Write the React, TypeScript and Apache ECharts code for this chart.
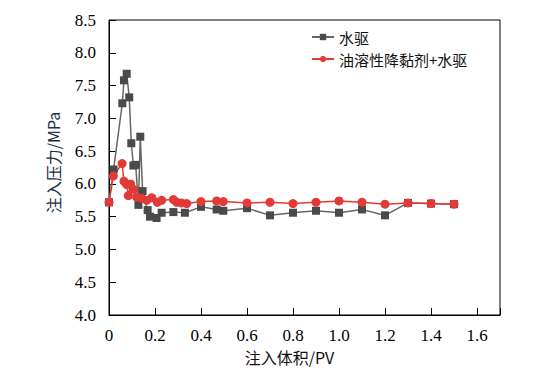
import React, { useEffect, useRef } from "react";
import * as echarts from "echarts";

const seriesNames = ["水驱", "油溶性降黏剂+水驱"];

const waterX = [0, 0.02, 0.058, 0.065, 0.077, 0.088, 0.097, 0.106, 0.116, 0.128, 0.136, 0.146, 0.168, 0.178, 0.207, 0.229, 0.28, 0.33, 0.4, 0.468, 0.497, 0.6, 0.7, 0.8, 0.9, 1.0, 1.1, 1.2, 1.3, 1.4, 1.5];
const waterY = [5.72, 6.22, 7.23, 7.58, 7.68, 7.32, 6.62, 6.28, 6.29, 5.68, 6.72, 5.89, 5.6, 5.5, 5.48, 5.56, 5.57, 5.56, 5.65, 5.61, 5.59, 5.63, 5.52, 5.56, 5.59, 5.56, 5.61, 5.52, 5.71, 5.7, 5.69];

const agentX = [0, 0.019, 0.057, 0.065, 0.077, 0.084, 0.094, 0.106, 0.12, 0.142, 0.164, 0.186, 0.21, 0.229, 0.28, 0.294, 0.315, 0.338, 0.4, 0.468, 0.497, 0.6, 0.7, 0.8, 0.9, 1.0, 1.1, 1.2, 1.3, 1.4, 1.5];
const agentY = [5.72, 6.12, 6.31, 6.04, 5.99, 5.82, 6.0, 5.92, 5.8, 5.78, 5.75, 5.79, 5.72, 5.75, 5.76, 5.72, 5.71, 5.7, 5.73, 5.74, 5.73, 5.71, 5.72, 5.7, 5.72, 5.74, 5.72, 5.69, 5.71, 5.7, 5.69];

const xTickLabels = ["0", "0.2", "0.4", "0.6", "0.8", "1.0", "1.2", "1.4", "1.6"];

export default function App() {
  const ref = useRef<HTMLDivElement>(null);
  useEffect(() => {
    if (!ref.current) return;
    const chart = echarts.init(ref.current, undefined, { renderer: "svg" });
    const serif = "Liberation Serif";
    const cjk = "Noto Sans CJK SC";
    chart.setOption({
      animation: false,
      backgroundColor: "#ffffff",
      grid: {
        left: 109,
        right: 40,
        top: 20,
        bottom: 64,
        show: true,
        borderColor: "#000",
        borderWidth: 1,
      },
      legend: {
        orient: "vertical",
        left: 311,
        top: 29,
        padding: 0,
        itemWidth: 22,
        itemHeight: 8,
        itemGap: 6,
        textStyle: { fontFamily: cjk, fontSize: 15, lineHeight: 16, color: "#111" },
        data: seriesNames,
      },
      xAxis: {
        type: "value",
        min: 0,
        max: 1.7,
        interval: 0.2,
        name: "注入体积/PV",
        nameLocation: "middle",
        nameGap: 33,
        nameTextStyle: { fontFamily: cjk, fontSize: 16, color: "#111", padding: [0, 30, 0, 0] },
        splitLine: { show: false },
        axisLine: { lineStyle: { color: "#000", width: 1 } },
        axisTick: { inside: true, length: 7, lineStyle: { color: "#000" } },
        axisLabel: {
          fontFamily: serif,
          fontSize: 17,
          color: "#000",
          margin: 12,
          formatter: (v: number) => {
            const idx = Math.round(v / 0.2);
            if (Math.abs(v - idx * 0.2) > 1e-6) return "";
            return xTickLabels[idx] ?? "";
          },
        },
      },
      yAxis: {
        type: "value",
        min: 4,
        max: 8.5,
        interval: 0.5,
        name: "注入压力/MPa",
        nameLocation: "middle",
        nameGap: 48,
        nameTextStyle: { fontFamily: cjk, fontSize: 16, color: "#1d2f40", padding: [0, 0, 0, 10] },
        splitLine: { show: false },
        axisLine: { lineStyle: { color: "#000", width: 1 } },
        axisTick: { inside: true, length: 7, lineStyle: { color: "#000" } },
        axisLabel: {
          fontFamily: serif,
          fontSize: 17,
          color: "#000",
          margin: 13,
          formatter: (v: number) => v.toFixed(1),
        },
      },
      series: [
        {
          name: seriesNames[0],
          type: "line",
          data: waterX.map((x, i) => [x, waterY[i]]),
          symbol: "rect",
          symbolSize: 8,
          itemStyle: { color: "#4a4a4a" },
          lineStyle: { color: "#666666", width: 1.5 },
        },
        {
          name: seriesNames[1],
          type: "line",
          data: agentX.map((x, i) => [x, agentY[i]]),
          symbol: "circle",
          symbolSize: 9,
          itemStyle: { color: "#e23a36" },
          lineStyle: { color: "#e23a36", width: 1.5 },
        },
      ],
    });
    return () => chart.dispose();
  }, []);
  return (
    <div
      ref={ref}
      style={{ position: "fixed", left: 0, top: 0, width: 540, height: 379 }}
    />
  );
}
